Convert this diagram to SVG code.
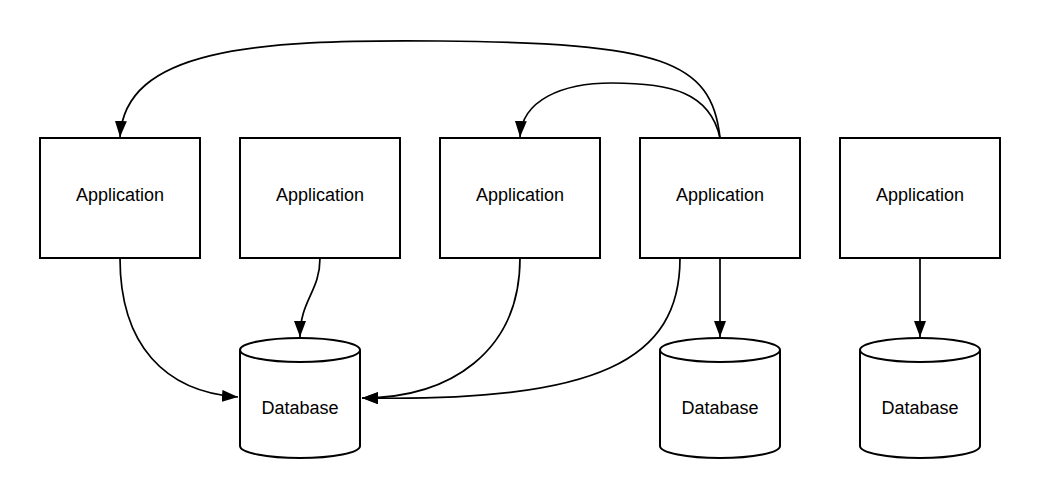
<svg xmlns="http://www.w3.org/2000/svg" width="1040" height="498" viewBox="0 0 1040 498">
<defs>
<style>
.box{fill:#fff;stroke:#000;stroke-width:2}
.db{fill:#fff;stroke:#000;stroke-width:2}
.lbl{font-family:"Liberation Sans",Arial,sans-serif;font-size:18px;fill:#000;text-anchor:middle}
.edge{fill:none;stroke:#000;stroke-width:1.7;marker-end:url(#ah)}
</style>
<marker id="ah" viewBox="0 0 16 12" refX="16" refY="6" markerWidth="16" markerHeight="12" markerUnits="userSpaceOnUse" orient="auto">
<path d="M0 0 L16 6 L0 12 Z" fill="#000"/>
</marker>
</defs>
<rect width="1040" height="498" fill="#fff"/>
<g id="connectors">
<path class="edge" d="M720 138 C712 60 660 43 440 41 C250 39 125 50 120 137"/>
<path class="edge" d="M720 138 C710 92 670 83 612 83 C562 83 522 100 520 137"/>
<path class="edge" d="M120 258 C120 345 165 392 238 397"/>
<path class="edge" d="M320 258 C320 292 300 300 300 337"/>
<path class="edge" d="M520 258 C520 352 450 398 362 398"/>
<path class="edge" d="M680 258 C680 360 600 402 362 398"/>
<path class="edge" d="M720 258 L720 337"/>
<path class="edge" d="M920 258 L920 337"/>
</g>
<g id="app1"><rect class="box" x="40" y="138" width="160" height="120"/><text class="lbl" x="120" y="201">Application</text></g>
<g id="app2"><rect class="box" x="240" y="138" width="160" height="120"/><text class="lbl" x="320" y="201">Application</text></g>
<g id="app3"><rect class="box" x="440" y="138" width="160" height="120"/><text class="lbl" x="520" y="201">Application</text></g>
<g id="app4"><rect class="box" x="640" y="138" width="160" height="120"/><text class="lbl" x="720" y="201">Application</text></g>
<g id="app5"><rect class="box" x="840" y="138" width="160" height="120"/><text class="lbl" x="920" y="201">Application</text></g>
<g id="db1"><path class="db" d="M240 350 A60 12 0 0 1 360 350 L360 446 A60 12 0 0 1 240 446 Z M240 350 A60 12 0 0 0 360 350"/><text class="lbl" x="300" y="414">Database</text></g>
<g id="db2"><path class="db" d="M660 350 A60 12 0 0 1 780 350 L780 446 A60 12 0 0 1 660 446 Z M660 350 A60 12 0 0 0 780 350"/><text class="lbl" x="720" y="414">Database</text></g>
<g id="db3"><path class="db" d="M860 350 A60 12 0 0 1 980 350 L980 446 A60 12 0 0 1 860 446 Z M860 350 A60 12 0 0 0 980 350"/><text class="lbl" x="920" y="414">Database</text></g>
</svg>
